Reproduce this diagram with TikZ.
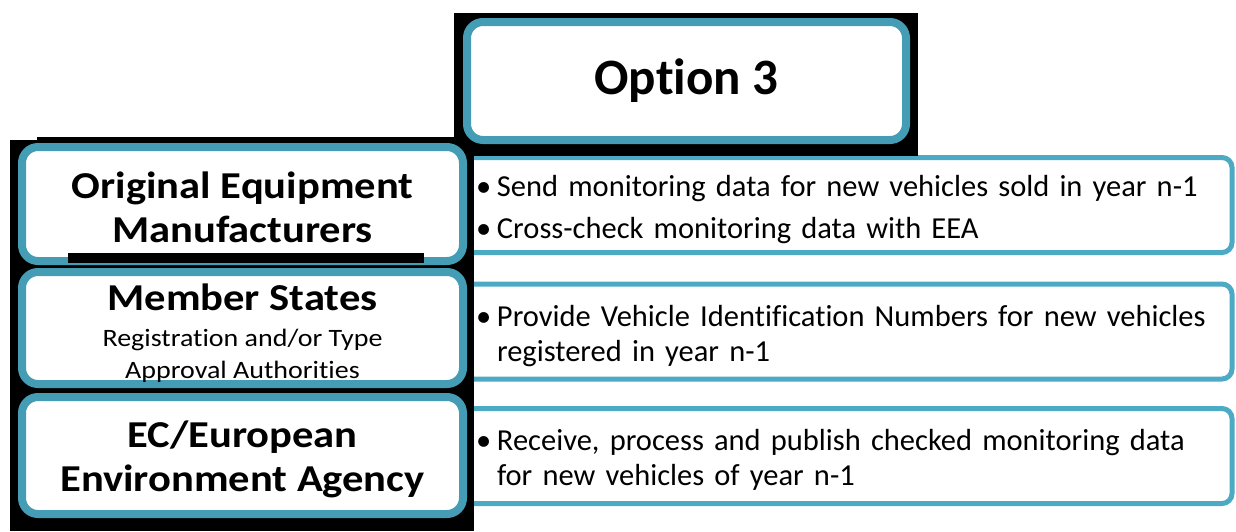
\documentclass[tikz,border=0pt]{standalone}
\usepackage{fontspec}
\setmainfont{Carlito}[Ligatures=NoCommon]
\newfontfamily\wideface{Carlito}[Ligatures=NoCommon, FakeStretch=1.12]
\usetikzlibrary{positioning}
\definecolor{optteal}{RGB}{68,156,181}
\definecolor{taskteal}{RGB}{76,170,196}

\begin{document}
\begin{tikzpicture}[x=1pt, y=-1pt, semithick]
  \tikzstyle{actor} = [rectangle, draw=optteal, line width=8pt, fill=white,
    rounded corners=16pt, align=center, inner sep=0pt, minimum width=441pt,
    font=\fontsize{38}{44}\wideface\bfseries]
  \tikzstyle{tasks} = [rectangle, draw=taskteal, line width=5pt, fill=white,
    rounded corners=10pt, text width=744pt, inner xsep=12pt, inner ysep=0pt,
    minimum height=95pt, align=left, font=\fontsize{30.5}{35}\selectfont]
  \tikzstyle{shadow} = [fill=black]
  \newcommand{\bul}{\makebox[21pt][l]{\textbullet}}
  \newcommand{\subline}{\fontsize{25}{30}\wideface\mdseries}
  \newcommand{\tasklist}[1]{\raisebox{-5pt}[\height][\depth]{%
    \begin{tabular}{@{}l@{}l@{}}#1\end{tabular}}}

  \useasboundingbox (0,0) rectangle (1236,531);

  % Right column: tasks
  \node [tasks] (oemtasks) at (848,205) {\tasklist{
    \bul & Send monitoring data for new vehicles sold in year n-1\\[7pt]
    \bul & Cross-check monitoring data with EEA}};
  \node [tasks] (mstasks) at (848,331.5) {\tasklist{
    \bul & Provide Vehicle Identification Numbers for new vehicles\\
    & registered in year n-1}};
  \node [tasks] (eeatasks) at (848,456) {\tasklist{
    \bul & Receive, process and publish checked monitoring data\\
    & for new vehicles of year n-1}};

  % Black backing
  \fill [shadow] (454,13) rectangle (918,156);
  \fill [shadow] (37,137) rectangle (474,531);
  \fill [shadow] (10,140) rectangle (474,531);

  % Place nodes
  \node [actor, minimum width=439pt, minimum height=118pt,
    font=\fontsize{51}{60}\selectfont\bfseries] (option) at (686.5,81) {Option 3};
  \node [actor, minimum height=114pt] (oem) at (242.5,204)
    {\rule{0pt}{34pt}Original Equipment\\Manufacturers};
  \node [actor, minimum height=112pt] (ms) at (242.5,328)
    {\rule{0pt}{38pt}Member States\\[-8pt]\subline Registration and/or Type\\[-12pt]
    \subline Approval Authorities};
  \node [actor, minimum height=117pt] (eea) at (242.5,455.5)
    {\rule{0pt}{34pt}EC/European\\Environment Agency};

  \fill [shadow] (68,253) rectangle (424,263);

\end{tikzpicture}
\end{document}
